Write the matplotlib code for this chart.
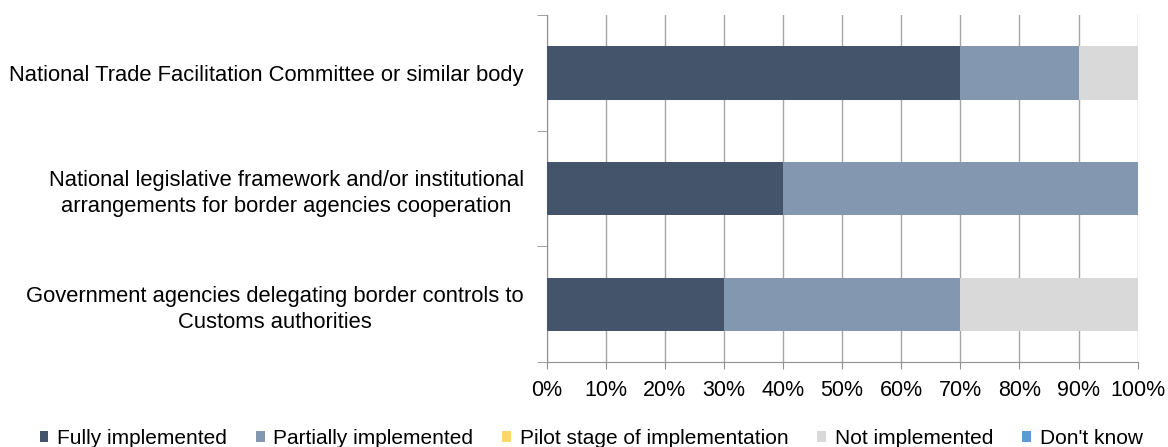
import numpy as np
import matplotlib.pyplot as plt
from matplotlib.ticker import FixedLocator, PercentFormatter

plt.rcParams['font.family'] = ['Liberation Sans', 'DejaVu Sans']

categorias = [
    'National Trade Facilitation Committee or similar body',
    'National legislative framework and/or institutional\narrangements for border agencies cooperation',
    'Government agencies delegating border controls to\nCustoms authorities',
]
series = ['Fully implemented', 'Partially implemented', 'Pilot stage of implementation',
          'Not implemented', "Don't know"]
valores = {
    'Fully implemented': [70, 40, 30],
    'Partially implemented': [20, 60, 40],
    'Pilot stage of implementation': [0, 0, 0],
    'Not implemented': [10, 0, 30],
    "Don't know": [0, 0, 0],
}
colores = ['#44546a', '#8497b0', '#ffd966', '#d9d9d9', '#5b9bd5']

fig = plt.figure(figsize=(11.68, 4.47), dpi=100)
ax = fig.add_axes([0.468, 0.19, 0.506, 0.776])

y = np.arange(len(categorias))[::-1]
izquierda = np.zeros(len(categorias))
for nombre, color in zip(series, colores):
    v = np.array(valores[nombre], dtype=float)
    ax.barh(y, v, left=izquierda, height=0.46, color=color, label=nombre, zorder=3)
    izquierda += v

ax.set_xlim(0, 100)
ax.set_ylim(-0.5, len(categorias) - 0.5)
ax.set_xticks(np.arange(0, 101, 10))
ax.xaxis.set_major_formatter(PercentFormatter(decimals=0))
ax.set_yticks(y)
ax.set_yticklabels(categorias)
ax.yaxis.set_minor_locator(FixedLocator(np.arange(-0.5, len(categorias), 1)))
ax.tick_params(axis='y', which='major', length=0, pad=16.5, labelsize=15.8)
ax.tick_params(axis='y', which='minor', length=7, color='#909090')
ax.tick_params(axis='x', length=5, color='#909090', labelsize=15.5, pad=8)
for lab in ax.get_yticklabels():
    lab.set_multialignment('center')
    lab.set_linespacing(1.3)

ax.grid(axis='x', color='#a6a6a6', linewidth=1, zorder=0)
for s in ['top', 'right']:
    ax.spines[s].set_visible(False)
for s in ['left', 'bottom']:
    ax.spines[s].set_color('#909090')

fig.legend(loc='lower center', bbox_to_anchor=(0.506, -0.045), ncol=5, frameon=False,
           fontsize=15, handlelength=0.43, handleheight=0.43, handletextpad=0.4,
           columnspacing=1.4)

fig.savefig('out.png', dpi=100)
